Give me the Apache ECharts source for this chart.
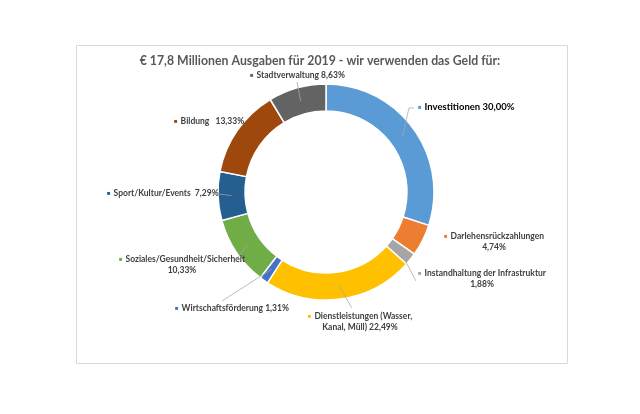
<!DOCTYPE html>
<html>
<head>
<meta charset="utf-8">
<script src="https://cdn.jsdelivr.net/npm/echarts@6/dist/echarts.min.js"></script>
<style>
  html, body { margin: 0; padding: 0; background: #fff; }
  #main { width: 640px; height: 414px; }
</style>
</head>
<body>
<div id="main"></div>
<script>
// Daten (Reihenfolge im Uhrzeigersinn ab 12 Uhr)
var names = ['Investitionen', 'Darlehensrückzahlungen', 'Instandhaltung der Infrastruktur',
  'Dienstleistungen (Wasser,\nKanal, Müll)', 'Wirtschaftsförderung', 'Soziales/Gesundheit/Sicherheit',
  'Sport/Kultur/Events', 'Bildung', 'Stadtverwaltung'];
var values = [30.00, 4.74, 1.88, 22.49, 1.31, 10.33, 7.29, 13.33, 8.63];
var colors = ['#5b9bd5', '#ed7d31', '#a5a5a5', '#ffc000', '#4472c4', '#70ad47', '#255e91', '#9e480e', '#636363'];

// Label-Positionen (x, y, Ausrichtung) wie im Original verschoben
var labelPos = [
  [418, 107, 'left'], [494, 242, 'center'], [482, 279, 'center'],
  [360, 322, 'center'], [175, 308, 'left'], [182, 265, 'center'],
  [107, 193, 'left'], [174, 121, 'left'], [250, 75, 'left']
];
// Anfang der Führungslinien am Label (null = keine Linie)
var lineStart = [
  [[414, 108], [409, 108]], null, [[416, 281]], [[352, 308]], [[222, 301]],
  [[234, 263]], [[211, 193]], null, [[297, 82]]
];

var CX = 326, CY = 192, R0 = 81, R = 108;

function fmtPct(v) {
  return v.toFixed(2).replace('.', ',') + '%';
}

var rich = {
  t: { fontFamily: 'Lato', fontSize: 8.5, fontWeight: 'bold', color: '#404040', lineHeight: 11, align: 'center' },
  tb: { fontFamily: 'Lato', fontSize: 9.5, fontWeight: 'bold', color: '#000', lineHeight: 11 }
};
for (var i = 0; i < colors.length; i++) {
  rich['s' + i] = { fontSize: 6, color: colors[i], padding: [0, 3, 0, 0] };
}

var data = [];
for (var i = 0; i < names.length; i++) {
  data.push({ name: names[i], value: values[i], itemStyle: { color: colors[i] } });
}

// Mittelpunkt eines Segments in der Ringmitte
function segMid(idx) {
  var total = 0, before = 0;
  for (var k = 0; k < values.length; k++) {
    total += values[k];
    if (k < idx) before += values[k];
  }
  var frac = (before + values[idx] / 2) / total;
  var a = -Math.PI / 2 + frac * 2 * Math.PI; // ab 12 Uhr im Uhrzeigersinn
  var rm = (R + R0) / 2;
  return [CX + Math.cos(a) * rm, CY + Math.sin(a) * rm];
}

var graphics = [{
  type: 'rect',
  shape: { x: 76.5, y: 45.5, width: 491, height: 318 },
  style: { fill: 'none', stroke: '#d9d9d9', lineWidth: 1 },
  z: -1
}];
for (var i = 0; i < lineStart.length; i++) {
  if (!lineStart[i]) continue;
  var pts = lineStart[i].slice();
  pts.push(segMid(i));
  graphics.push({
    type: 'polyline',
    shape: { points: pts },
    style: { fill: 'none', stroke: '#a6a6a6', lineWidth: 0.75 },
    z: 10
  });
}

var chart = echarts.init(document.getElementById('main'));
var option = {
  backgroundColor: '#fff',
  animation: false,
  title: {
    text: '€ 17,8 Millionen Ausgaben für 2019 - wir verwenden das Geld für:',
    left: 'center',
    top: 50,
    textStyle: { fontFamily: 'Lato', fontSize: 12.3, fontWeight: 'bold', color: '#595959' }
  },
  graphic: graphics,
  series: [{
    type: 'pie',
    center: [CX, CY],
    radius: [R0, R],
    startAngle: 90,
    clockwise: true,
    data: data,
    itemStyle: { borderColor: '#fff', borderWidth: 1.5 },
    label: {
      show: true,
      position: 'outside',
      formatter: function (p) {
        var i = p.dataIndex;
        var txt = p.name.replace('\n', ' ');
        var pct = fmtPct(p.value);
        if (i === 0) return '{s0|■}{tb|' + txt + ' ' + pct + '}';
        if (i === 1) return '{s1|■}{t|Darlehensrückzahlungen}\n{t|' + pct + '}';
        if (i === 2) return '{s2|■}{t|' + txt + '}\n{t|' + pct + '}';
        if (i === 3) return '{s3|■}{t|Dienstleistungen (Wasser,}\n{t|Kanal, Müll) ' + pct + '}';
        if (i === 5) return '{s5|■}{t|' + txt + '}\n{t|' + pct + '}';
        if (i === 6) return '{s6|■}{t|' + txt + '  ' + pct + '}';
        if (i === 7) return '{s7|■}{t|' + txt + '   ' + pct + '}';
        return '{s' + i + '|■}{t|' + txt + ' ' + pct + '}';
      },
      rich: rich
    },
    labelLine: { show: false },
    labelLayout: function (params) {
      var p = labelPos[params.dataIndex];
      return { x: p[0], y: p[1], align: p[2], verticalAlign: 'middle' };
    }
  }]
};
chart.setOption(option);
</script>
</body>
</html>
